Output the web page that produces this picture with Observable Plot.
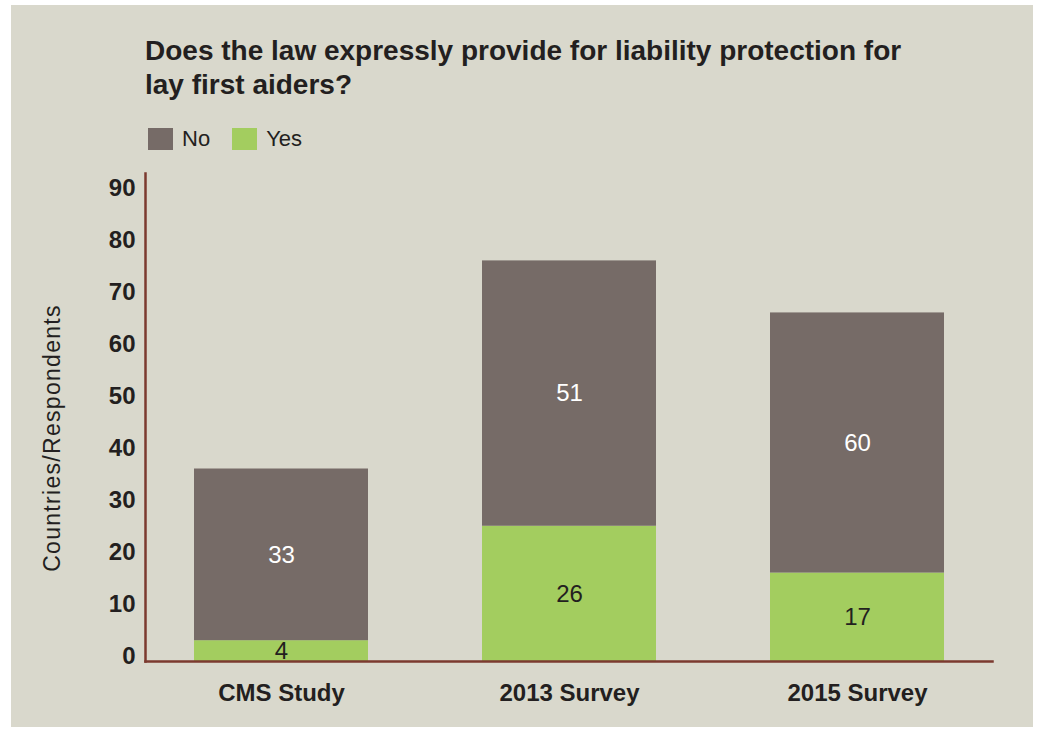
<!DOCTYPE html>
<html>
<head>
<meta charset="utf-8">
<script src="https://cdn.jsdelivr.net/npm/d3@7"></script>
<script src="https://cdn.jsdelivr.net/npm/@observablehq/plot@0.6"></script>
<style>
  html, body { margin: 0; padding: 0; background: #ffffff; width: 1040px; height: 729px; overflow: hidden; }
  #panel { position: absolute; left: 11px; top: 5px; width: 1022px; height: 722px; background: #d9d8cc; }
  #title { position: absolute; left: 145px; top: 34px; margin: 0; font-family: "Liberation Sans", Arial, sans-serif;
           font-weight: bold; font-size: 28px; line-height: 34px; color: #231f20; }
  #legend { position: absolute; left: 148px; top: 126px; display: flex; align-items: center;
            font-family: "Liberation Sans", Arial, sans-serif; font-size: 22px; color: #231f20; }
  #legend .sw { width: 25px; height: 22px; display: inline-block; margin-right: 9px; }
  #legend .item { display: flex; align-items: center; margin-right: 22px; }
  #chart { position: absolute; left: 0; top: 160px; }
  #ylabel { position: absolute; left: 52px; top: 438px; transform: translate(-50%, -50%) rotate(-90deg);
            white-space: nowrap; font-family: "Liberation Sans", Arial, sans-serif; font-size: 23px;
            letter-spacing: 1.3px; color: #231f20; }
</style>
</head>
<body>
<div id="panel"></div>
<h2 id="title">Does the law expressly provide for liability protection for<br>lay first aiders?</h2>
<div id="legend"></div>
<div id="ylabel">Countries/Respondents</div>
<div id="chart"></div>
<script>
// ---- data ----
const categories = ["CMS Study", "2013 Survey", "2015 Survey"];
const responses = ["No", "Yes"];
const responseColors = ["#766b67", "#a3cd5f"];
const yesValues = [4, 26, 17];
const noValues = [33, 51, 50];        // heights as drawn in the picture
const noLabels = ["33", "51", "60"];  // numbers printed on the bars
const yesLabels = ["4", "26", "17"];
const yTicks = [0, 10, 20, 30, 40, 50, 60, 70, 80, 90];
const yAxisTitle = "Countries/Respondents";

// ---- table for Plot (Yes first so it sits at the bottom of the stack) ----
const rows = [];
categories.forEach((c, i) => rows.push({category: c, response: "Yes", value: yesValues[i], label: yesLabels[i]}));
categories.forEach((c, i) => rows.push({category: c, response: "No", value: noValues[i], label: noLabels[i]}));

// legend
const legend = document.getElementById("legend");
responses.forEach((r, i) => {
  const item = document.createElement("span");
  item.className = "item";
  const sw = document.createElement("span");
  sw.className = "sw";
  sw.style.background = responseColors[i];
  item.appendChild(sw);
  item.appendChild(document.createTextNode(r));
  legend.appendChild(item);
});

const axisColor = "#7b3a2f";
const font = "Liberation Sans, Arial, sans-serif";

const chart = Plot.plot({
  width: 1040,
  height: 569,
  marginLeft: 145,
  marginRight: 48,
  marginTop: 13,
  marginBottom: 68,
  style: {background: "transparent", fontFamily: font, color: "#231f20", overflow: "visible"},
  x: {domain: categories, paddingInner: 0.396, paddingOuter: 0.167, label: null},
  y: {domain: [0, 93.8], label: null},
  color: {domain: responses, range: responseColors},
  marks: [
    Plot.barY(rows, {x: "category", y: "value", fill: "response"}),
    Plot.text(rows, Plot.stackY({
      x: "category", y: "value", text: "label",
      fill: d => d.response === "No" ? "#ffffff" : "#231f20",
      fontSize: 24
    })),
    Plot.frame({anchor: "left", stroke: axisColor, strokeWidth: 2.5}),
    Plot.frame({anchor: "bottom", stroke: axisColor, strokeWidth: 2.5}),
    Plot.axisY({ticks: yTicks, tickSize: 0, tickPadding: 10, dy: -5, fontSize: 24, fontWeight: "bold", label: null}),
    Plot.axisX({tickSize: 0, tickPadding: 22, fontSize: 24, fontWeight: "bold", label: null})
  ]
});
document.getElementById("chart").appendChild(chart);
document.getElementById("ylabel").textContent = yAxisTitle;
</script>
</body>
</html>
